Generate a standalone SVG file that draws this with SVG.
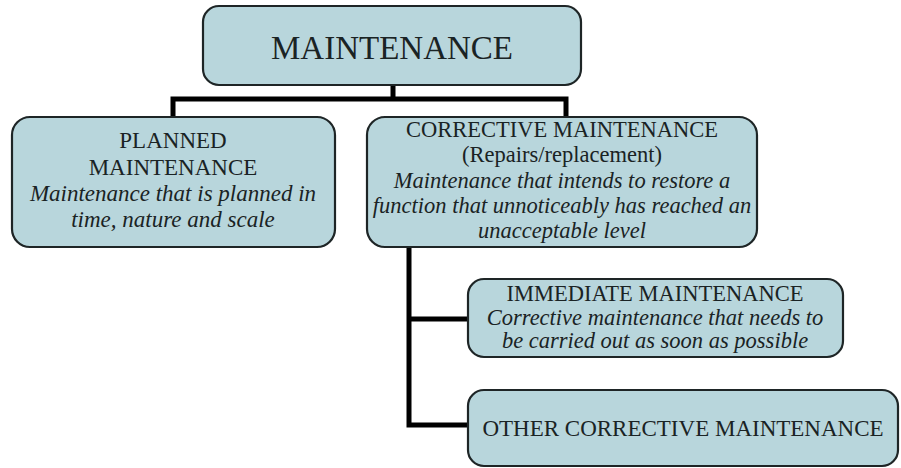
<svg xmlns="http://www.w3.org/2000/svg" width="901" height="468" viewBox="0 0 901 468">
<style>
.box{fill:#b8d6dc;stroke:#1e2526;stroke-width:2.2}
.t{font-family:"Liberation Serif","Times New Roman",serif;fill:#1a2324;text-anchor:middle}
.i{font-style:italic}
.con{stroke:#000;stroke-width:5;fill:none}
</style>
<rect width="901" height="468" fill="#ffffff"/>
<g id="connectors">
<path class="con" d="M393 85 V99 M173 117 V99 H566 V117"/>
<path class="con" d="M409 247 V425 H469 M407 319 H469"/>
</g>
<g id="maintenance">
<rect class="box" x="203" y="6" width="378" height="79" rx="16"/>
<text class="t" x="392" y="59" font-size="33">MAINTENANCE</text>
</g>
<g id="planned">
<rect class="box" x="12" y="117" width="323" height="130" rx="18"/>
<text class="t" font-size="23"><tspan x="173" y="148">PLANNED</tspan><tspan x="173" y="175">MAINTENANCE</tspan></text>
<text class="t i" font-size="23"><tspan x="173" y="201">Maintenance that is planned in</tspan><tspan x="173" y="227">time, nature and scale</tspan></text>
</g>
<g id="corrective">
<rect class="box" x="367" y="117" width="390" height="130" rx="18"/>
<text class="t" font-size="22.5"><tspan x="562" y="137">CORRECTIVE MAINTENANCE</tspan><tspan x="562" y="162">(Repairs/replacement)</tspan></text>
<text class="t i" font-size="22.5"><tspan x="562" y="188">Maintenance that intends to restore a</tspan><tspan x="562" y="213">function that unnoticeably has reached an</tspan><tspan x="562" y="238">unacceptable level</tspan></text>
</g>
<g id="immediate">
<rect class="box" x="468" y="279" width="375" height="78" rx="16"/>
<text class="t" font-size="22.5" x="655" y="301">IMMEDIATE MAINTENANCE</text>
<text class="t i" font-size="22.5"><tspan x="655" y="325">Corrective maintenance that needs to</tspan><tspan x="655" y="348">be carried out as soon as possible</tspan></text>
</g>
<g id="other">
<rect class="box" x="468" y="390" width="430" height="76" rx="16"/>
<text class="t" font-size="23" x="683" y="436">OTHER CORRECTIVE MAINTENANCE</text>
</g>
</svg>
